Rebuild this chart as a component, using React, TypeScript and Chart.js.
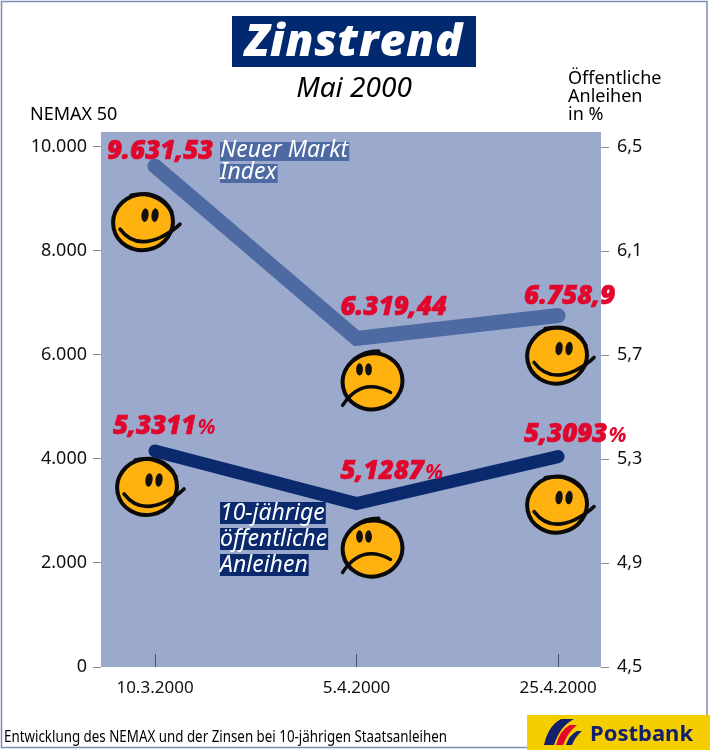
import React, { useEffect, useRef } from "react";
import { Chart, registerables } from "chart.js";

Chart.register(...registerables);

const categories = ["10.3.2000", "5.4.2000", "25.4.2000"];
const nemaxValues = [9631.53, 6319.44, 6758.9];
const bondValues = [5.3311, 5.1287, 5.3093];
const nemaxLabels = ["9.631,53", "6.319,44", "6.758,9"];
const bondLabels = ["5,3311", "5,1287", "5,3093"];
const moods = ["happy", "sad", "happy"];
const leftTicks = [0, 2000, 4000, 6000, 8000, 10000];
const leftTickLabels = ["0", "2.000", "4.000", "6.000", "8.000", "10.000"];
const rightTicks = [4.5, 4.9, 5.3, 5.7, 6.1, 6.5];
const rightTickLabels = ["4,5", "4,9", "5,3", "5,7", "6,1", "6,5"];

const NAVY = "#0B2A6E";
const STEEL = "#4E6AA3";
const PLOT = "#9BA9CD";
const RED = "#E2062C";
const YELLOW = "#FFB20F";
const FONT = '"Noto Sans"';
const HEAVY = '"Open Sans"';

function drawFace(ctx: CanvasRenderingContext2D, cx: number, cy: number, mood: string) {
  ctx.save();
  ctx.translate(cx, cy);
  ctx.strokeStyle = "#0a0a0a";
  ctx.lineCap = "round";
  ctx.lineJoin = "round";
  ctx.fillStyle = YELLOW;
  ctx.lineWidth = 4;
  ctx.beginPath();
  ctx.ellipse(0, 0, 30, 28, -0.2, 0, Math.PI * 2);
  ctx.fill();
  ctx.stroke();
  ctx.fillStyle = "#111";
  if (mood === "happy") {
    ctx.lineWidth = 3.6;
    ctx.beginPath();
    ctx.moveTo(-23, 7);
    ctx.quadraticCurveTo(-8, 27, 18, 15);
    ctx.quadraticCurveTo(30, 9, 37, 2);
    ctx.stroke();
    ctx.lineWidth = 3.4;
    ctx.beginPath();
    ctx.moveTo(-12, -27);
    ctx.quadraticCurveTo(14, -32, 29, -10);
    ctx.stroke();
    ctx.beginPath();
    ctx.ellipse(2, -7, 3.6, 6.8, 0.12, 0, Math.PI * 2);
    ctx.ellipse(12, -7, 3.6, 6.8, 0.12, 0, Math.PI * 2);
    ctx.fill();
  } else {
    ctx.lineWidth = 3.4;
    ctx.beginPath();
    ctx.moveTo(-30, 24);
    ctx.quadraticCurveTo(-11, -5, 18, 11);
    ctx.stroke();
    ctx.lineWidth = 4.2;
    ctx.beginPath();
    ctx.moveTo(-18, -22);
    ctx.quadraticCurveTo(-8, -30, 6, -30);
    ctx.stroke();
    ctx.beginPath();
    ctx.ellipse(-13, -12, 3.4, 6.2, 0, 0, Math.PI * 2);
    ctx.ellipse(-4, -12, 3.4, 6.2, 0, 0, Math.PI * 2);
    ctx.fill();
  }
  ctx.restore();
}

function redText(ctx: CanvasRenderingContext2D, text: string, pct: boolean, x: number, y: number) {
  ctx.save();
  ctx.fillStyle = RED;
  ctx.strokeStyle = RED;
  ctx.lineWidth = 0.6;
  ctx.lineJoin = "round";
  ctx.textAlign = "left";
  ctx.textBaseline = "alphabetic";
  ctx.font = `italic 800 26px ${HEAVY}`;
  ctx.fillText(text, x, y);
  ctx.strokeText(text, x, y);
  if (pct) {
    const w = ctx.measureText(text).width;
    ctx.font = `italic 700 21px ${HEAVY}`;
    ctx.fillText("%", x + w + 1, y);
  }
  ctx.restore();
}

function tagText(ctx: CanvasRenderingContext2D, text: string, x: number, y: number, h: number, bg: string) {
  ctx.save();
  ctx.font = `italic 400 23px ${FONT}`;
  ctx.textAlign = "left";
  ctx.textBaseline = "alphabetic";
  const w = ctx.measureText(text).width;
  ctx.fillStyle = bg;
  ctx.fillRect(x, y - h + 4, w + 1, h);
  ctx.fillStyle = "#fff";
  ctx.fillText(text, x, y);
  ctx.restore();
}

const backdrop = {
  id: "backdrop",
  beforeDraw(chart: any) {
    const { ctx, chartArea: a } = chart;
    ctx.save();
    ctx.fillStyle = "#fff";
    ctx.fillRect(0, 0, 710, 750);
    ctx.strokeStyle = "#7C8CB2";
    ctx.lineWidth = 1.5;
    ctx.strokeRect(1.5, 1.5, 705.5, 746);
    ctx.fillStyle = PLOT;
    ctx.fillRect(a.left, a.top, a.right - a.left, a.bottom - a.top);
    ctx.restore();
  },
};

const annotations = {
  id: "annotations",
  afterDatasetsDraw(chart: any) {
    const { ctx } = chart;
    const p0 = chart.getDatasetMeta(0).data;
    const p1 = chart.getDatasetMeta(1).data;
    ctx.save();
    // faces hang off their data points
    const off0 = [[-12, 56], [16, 43], [-1, 40]];
    const off1 = [[-8, 36], [16, 45], [-1, 48]];
    moods.forEach((m, i) => {
      drawFace(ctx, p0[i].x + off0[i][0], p0[i].y + off0[i][1], m);
      drawFace(ctx, p1[i].x + off1[i][0], p1[i].y + off1[i][1], m);
    });
    // value labels
    const n0 = [[-48, -7], [-16, -23], [-34, -12]];
    const n1 = [[-42, -17], [-16, -25], [-34, -15]];
    nemaxLabels.forEach((t, i) => redText(ctx, t, false, p0[i].x + n0[i][0], p0[i].y + n0[i][1]));
    bondLabels.forEach((t, i) => redText(ctx, t, true, p1[i].x + n1[i][0], p1[i].y + n1[i][1]));
    // series tags
    tagText(ctx, "Neuer Markt", 220, 157, 19, STEEL);
    tagText(ctx, "Index", 220, 179, 19, STEEL);
    tagText(ctx, "10-jährige", 220, 520, 22, NAVY);
    tagText(ctx, "öffentliche", 220, 546, 22, NAVY);
    tagText(ctx, "Anleihen", 220, 572, 22, NAVY);

    // title
    ctx.fillStyle = "#00296F";
    ctx.fillRect(232, 16, 244, 51);
    ctx.fillStyle = "#fff";
    ctx.textAlign = "center";
    ctx.textBaseline = "alphabetic";
    ctx.font = `italic 800 45px ${HEAVY}`;
    (ctx as any).letterSpacing = "0.8px";
    ctx.fillText("Zinstrend", 354, 56);
    (ctx as any).letterSpacing = "0px";
    ctx.fillStyle = "#000";
    ctx.font = `italic 400 28px ${FONT}`;
    ctx.fillText("Mai 2000", 354, 97);

    ctx.textAlign = "left";
    ctx.font = `400 18px ${FONT}`;
    ctx.fillText("NEMAX 50", 30, 120);
    ctx.fillText("Öffentliche", 568, 84);
    ctx.fillText("Anleihen", 568, 102);
    ctx.fillText("in %", 568, 120);

    // footer
    ctx.font = `400 17px ${FONT}`;
    ctx.fillText("Entwicklung des NEMAX und der Zinsen bei 10-jährigen Staatsanleihen", 4, 742, 443);

    // logo
    ctx.fillStyle = "#F5CE00";
    ctx.fillRect(527, 715, 183, 35);
    ctx.fillStyle = "#14206B";
    ctx.beginPath();
    ctx.moveTo(544, 745);
    ctx.quadraticCurveTo(548, 726, 561, 719);
    ctx.lineTo(574, 719);
    ctx.quadraticCurveTo(560, 726, 554, 745);
    ctx.closePath();
    ctx.fill();
    ctx.fillStyle = "#E2062C";
    ctx.beginPath();
    ctx.moveTo(556, 745);
    ctx.quadraticCurveTo(560, 730, 570, 725);
    ctx.lineTo(577, 725);
    ctx.quadraticCurveTo(568, 732, 563, 745);
    ctx.closePath();
    ctx.fill();
    ctx.fillStyle = "#14206B";
    ctx.beginPath();
    ctx.moveTo(566, 745);
    ctx.quadraticCurveTo(569, 735, 577, 731);
    ctx.lineTo(582, 731);
    ctx.quadraticCurveTo(575, 737, 572, 745);
    ctx.closePath();
    ctx.fill();
    ctx.font = `700 22px ${FONT}`;
    ctx.fillText("Postbank", 590, 741);
    ctx.restore();
  },
};

const tickFont = { family: "Noto Sans", size: 18 };

export default function App() {
  const ref = useRef<HTMLCanvasElement>(null);
  useEffect(() => {
    const chart = new Chart(ref.current!, {
      type: "line",
      data: {
        datasets: [
          {
            data: nemaxValues.map((y, i) => ({ x: i, y })),
            yAxisID: "yL",
            borderColor: STEEL,
            borderWidth: 15,
            borderCapStyle: "round",
            borderJoinStyle: "miter",
            pointRadius: 0,
            tension: 0,
          },
          {
            data: bondValues.map((y, i) => ({ x: i, y })),
            yAxisID: "yR",
            borderColor: NAVY,
            borderWidth: 13,
            borderCapStyle: "round",
            borderJoinStyle: "miter",
            pointRadius: 0,
            tension: 0,
          },
        ],
      },
      options: {
        animation: false,
        responsive: false,
        devicePixelRatio: 1,
        layout: { padding: { left: 0, right: 0, top: 132, bottom: 43 } },
        plugins: { legend: { display: false }, tooltip: { enabled: false } },
        scales: {
          x: {
            type: "linear",
            min: -0.268,
            max: 2.213,
            afterBuildTicks: (s: any) => {
              s.ticks = categories.map((_, i) => ({ value: i }));
            },
            afterFit: (s: any) => {
              s.height = 40;
            },
            border: { display: false },
            grid: { drawOnChartArea: false, tickLength: -13, tickWidth: 1, tickColor: "#46536f" },
            ticks: {
              callback: (v: any) => categories[v],
              color: "#111",
              font: { family: "Noto Sans", size: 17 },
              padding: 24,
              maxRotation: 0,
              autoSkip: false,
            },
          },
          yL: {
            position: "left",
            min: 0,
            max: 10288,
            afterBuildTicks: (s: any) => {
              s.ticks = leftTicks.map((value) => ({ value }));
            },
            afterFit: (s: any) => {
              s.width = 101;
            },
            border: { display: false },
            grid: { drawOnChartArea: false, tickLength: 8, tickColor: "#8a8a8a" },
            ticks: {
              callback: (v: any) => leftTickLabels[leftTicks.indexOf(v)],
              color: "#111",
              font: tickFont,
              padding: 6,
              autoSkip: false,
            },
          },
          yR: {
            position: "right",
            min: 4.5,
            max: 6.5577,
            afterBuildTicks: (s: any) => {
              s.ticks = rightTicks.map((value) => ({ value }));
            },
            afterFit: (s: any) => {
              s.width = 109;
            },
            border: { display: false },
            grid: { drawOnChartArea: false, tickLength: 8, tickColor: "#8a8a8a" },
            ticks: {
              callback: (v: any) => rightTickLabels[rightTicks.indexOf(v)],
              color: "#111",
              font: tickFont,
              padding: 8,
              autoSkip: false,
            },
          },
        },
      },
      plugins: [backdrop, annotations],
    } as any);
    return () => chart.destroy();
  }, []);
  return (
    <div style={{ position: "absolute", left: 0, top: 0, width: 710, height: 750 }}>
      <canvas ref={ref} width={710} height={750} style={{ display: "block", width: 710, height: 750 }} />
    </div>
  );
}
